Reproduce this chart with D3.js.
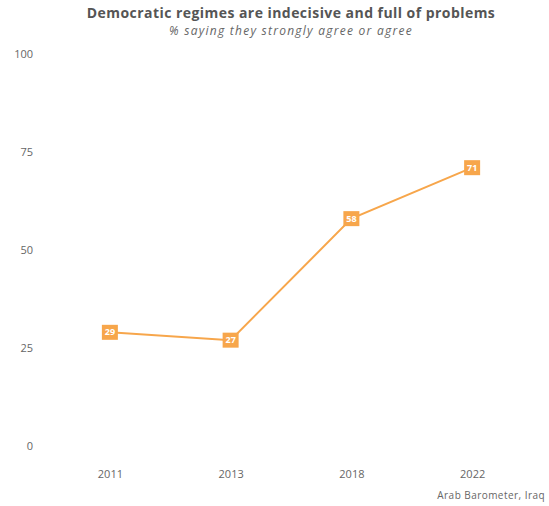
<!DOCTYPE html>
<html><head><meta charset="utf-8">
<script src="https://cdn.jsdelivr.net/npm/d3@7"></script>
<style>body{margin:0;background:#fff;}svg{display:block;font-family:"Open Sans",sans-serif;}</style>
</head><body><svg id="c" width="549" height="506"></svg>
<script>
const years = ["2011","2013","2018","2022"];
const values = [29,27,58,71];
const yTicks = [0,25,50,75,100];
const title = "Democratic regimes are indecisive and full of problems";
const subtitle = "% saying they strongly agree or agree";
const caption = "Arab Barometer, Iraq";
const color = "#f7a64b";

const svg = d3.select("#c");
const x = d3.scalePoint().domain(years).range([49.5,532.5]).padding(0.5);
const y = d3.scaleLinear().domain([0,100]).range([446,54]);

svg.append("text").attr("x",291).attr("y",18).attr("text-anchor","middle")
  .attr("font-size",14).attr("font-weight",700).attr("letter-spacing",0.45).attr("fill","#555").text(title);
svg.append("text").attr("x",291).attr("y",35).attr("text-anchor","middle")
  .attr("font-size",12).attr("font-style","italic").attr("letter-spacing",1.25).attr("fill","#666").text(subtitle);

const ya = svg.append("g").attr("transform","translate(33,0)")
  .call(d3.axisLeft(y).tickValues(yTicks).tickSize(0).tickPadding(0));
ya.select(".domain").remove();
ya.selectAll("text").attr("font-size",11).attr("fill","#666").attr("font-family","Open Sans").attr("dy","0.32em");

const xa = svg.append("g").attr("transform","translate(0,470)")
  .call(d3.axisBottom(x).tickSize(0).tickPadding(0));
xa.select(".domain").remove();
xa.selectAll("text").attr("font-size",11).attr("fill","#666").attr("font-family","Open Sans");

svg.append("text").attr("x",545).attr("y",499).attr("text-anchor","end")
  .attr("font-size",10).attr("letter-spacing",0.45).attr("fill","#666").text(caption);

const line = d3.line().x((d,i)=>x(years[i])).y(d=>y(d));
svg.append("path").datum(values).attr("d",line).attr("fill","none")
  .attr("stroke",color).attr("stroke-width",2);

const g = svg.selectAll(".pt").data(values).enter().append("g")
  .attr("transform",(d,i)=>`translate(${x(years[i])},${y(d)})`);
g.append("rect").attr("x",-8).attr("y",-7.5).attr("width",16).attr("height",15).attr("fill",color);
g.append("text").attr("text-anchor","middle").attr("dy","0.35em").attr("font-size",9)
  .attr("font-weight",700).attr("fill","#fff").text(d=>d);
</script></body></html>
